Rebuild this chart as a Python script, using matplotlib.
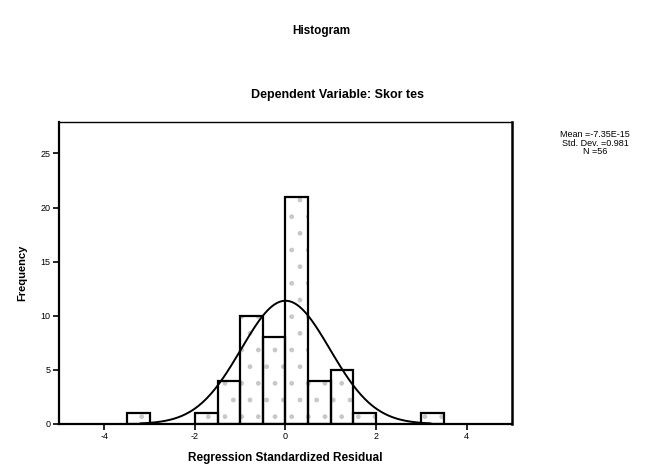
import numpy as np
import matplotlib
matplotlib.use('Agg')
from matplotlib import pyplot as plt

# histogram of regression standardized residuals (SPSS style)
bin_left = [-3.5, -2.0, -1.5, -1.0, -0.5, 0.0, 0.5, 1.0, 1.5, 3.0]
counts   = [1, 1, 4, 10, 8, 21, 4, 5, 1, 1]
bin_w    = 0.5
mean_r   = -7.35e-15
sd_r     = 0.981
n_obs    = 56
xticks   = [-4, -2, 0, 2, 4]
yticks   = [0, 5, 10, 15, 20, 25]

plt.rcParams['font.family'] = ['Liberation Sans', 'DejaVu Sans']
plt.rcParams['axes.unicode_minus'] = False

fig = plt.figure(figsize=(6.46, 4.70), dpi=100)
ax = fig.add_axes([0.0913, 0.0979, 0.7013, 0.6425])

# stippled fill then outline
ax.bar(bin_left, counts, width=bin_w, align='edge', color='white',
       edgecolor='#c8c8c8', hatch='.', linewidth=0, zorder=2)
ax.bar(bin_left, counts, width=bin_w, align='edge', fill=False,
       edgecolor='black', linewidth=1.6, zorder=3)

# normal curve scaled to counts
xs = np.linspace(-3.2, 3.2, 300)
ys = n_obs * bin_w / (sd_r * np.sqrt(2*np.pi)) * np.exp(-0.5*((xs-mean_r)/sd_r)**2)
ax.plot(xs, ys, color='black', linewidth=1.4, zorder=4)

ax.set_xlim(-5, 5)
ax.set_ylim(0, 27.9)
ax.set_xticks(xticks)
ax.set_yticks(yticks)
ax.tick_params(labelsize=6.5, length=4, width=1.2, pad=2)
for s in ax.spines.values():
    s.set_linewidth(1.0)
ax.spines['right'].set_linewidth(1.8)
ax.spines['left'].set_linewidth(1.6)
ax.spines['bottom'].set_linewidth(1.6)

ax.set_ylabel('Frequency', fontsize=8, fontweight='bold', labelpad=10)
ax.set_xlabel('Regression Standardized Residual', fontsize=8.5, fontweight='bold', labelpad=8)

fig.text(0.498, 0.935, 'Histogram', ha='center', va='center', fontsize=8.5, fontweight='bold')
fig.text(0.523, 0.798, 'Dependent Variable: Skor tes', ha='center', va='center',
         fontsize=9, fontweight='bold')
fig.text(0.921, 0.695, 'Mean =-7.35E-15\nStd. Dev. =0.981\nN =56', ha='center', va='center',
         fontsize=6.5, linespacing=0.95)

plt.savefig('out.png', dpi=100)
plt.close()
